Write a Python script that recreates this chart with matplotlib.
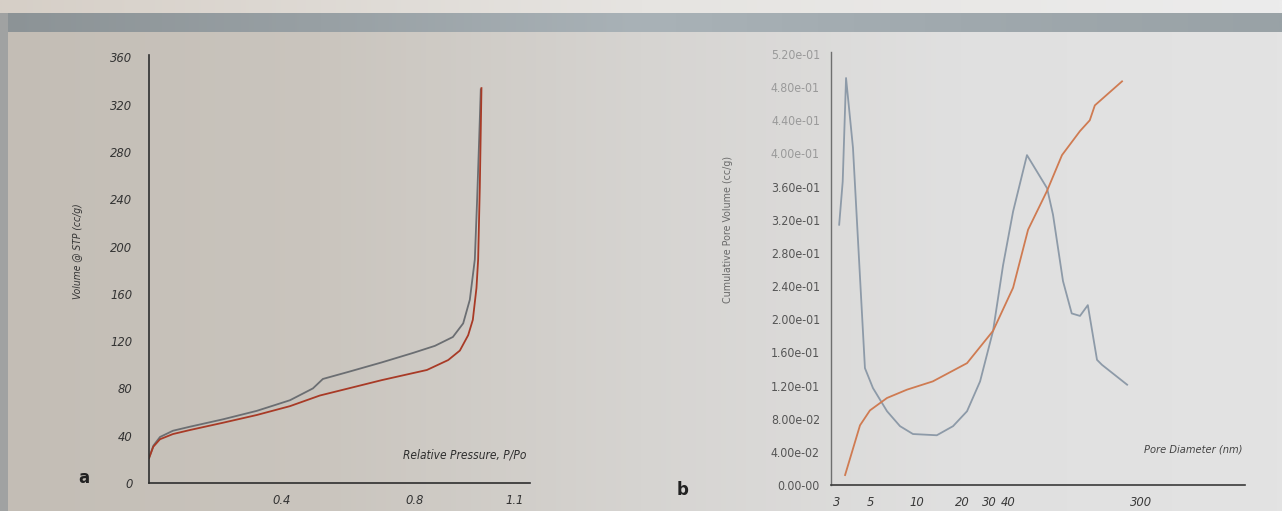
#!/usr/bin/env python3
"""
Nitrogen sorption figure: (a) isotherm, (b) cumulative pore volume / PSD.
"""

import numpy as np
import matplotlib
matplotlib.use("Agg")
import matplotlib.pyplot as plt
from matplotlib import font_manager
from matplotlib.colors import LinearSegmentedColormap

# ── Panel a: isotherm ───────────────────────────────────────────
p_desorb = [0.0, 0.013, 0.033, 0.072, 0.123, 0.223, 0.324, 0.424, 0.493, 0.523,
            0.60, 0.70, 0.794, 0.86, 0.914, 0.945, 0.965, 0.98, 0.987, 0.993, 0.998]
v_desorb = [21, 31.5, 38.9, 44.2, 47.6, 53.9, 61, 70, 80, 88,
            94, 102, 110, 116, 123.5, 135, 155, 189, 240, 290, 333]

p_adsorb = [0.0, 0.013, 0.033, 0.072, 0.123, 0.223, 0.324, 0.424, 0.514, 0.60,
            0.70, 0.836, 0.90, 0.935, 0.96, 0.974, 0.985, 0.99, 0.995, 0.998, 1.0]
v_adsorb = [21, 30.7, 37, 41.4, 44.8, 51, 57.5, 65, 74, 80,
            87, 95.6, 104, 112, 125, 138, 165, 189, 250, 300, 334]

a_yticks = [0, 40, 80, 120, 160, 200, 240, 280, 320, 360]
a_xticks = [0.4, 0.8, 1.1]

# ── Panel b: pore size ──────────────────────────────────────────
d_psd = [3.10, 3.27, 3.44, 3.82, 4.58, 5.17, 6.40, 7.79, 9.48, 13.6, 17.4, 21.5,
         26.2, 31.9, 37.1, 43.2, 53.3, 72.3, 79.1, 92.0, 105, 119, 134, 154, 166, 243]
v_psd = [0.314, 0.366, 0.491, 0.407, 0.141, 0.117, 0.089, 0.071, 0.0615, 0.060,
         0.071, 0.089, 0.125, 0.186, 0.265, 0.330, 0.398, 0.358, 0.326, 0.246,
         0.207, 0.204, 0.217, 0.151, 0.145, 0.121]

d_cum = [3.39, 4.25, 4.94, 6.40, 8.65, 12.8, 21.5, 31.9, 43.2, 54.2, 72.3, 90.6,
         119, 138, 149, 225]
v_cum = [0.012, 0.072, 0.090, 0.105, 0.115, 0.125, 0.147, 0.186, 0.238, 0.308,
         0.355, 0.398, 0.427, 0.440, 0.458, 0.487]

b_yticks = [0.00, 0.04, 0.08, 0.12, 0.16, 0.20, 0.24, 0.28, 0.32, 0.36,
            0.40, 0.44, 0.48, 0.52]
b_ylabels = ["0.00-00", "4.00e-02", "8.00e-02", "1.20e-01", "1.60e-01", "2.00e-01",
             "2.40e-01", "2.80e-01", "3.20e-01", "3.60e-01", "4.00e-01", "4.40e-01",
             "4.80e-01", "5.20e-01"]
b_xticks = [3, 5, 10, 20, 30, 40, 300]


# ── Pick a narrow font if one is installed ─────────────────────
def find_narrow(italic):
    best = None
    for f in font_manager.fontManager.ttflist:
        name = f.name.lower()
        fn = f.fname.lower()
        narrow = ("narrow" in name or "condensed" in name or "narrow" in fn
                  or "condensed" in fn or str(f.stretch) in ("condensed", "semi-condensed"))
        if not narrow or "bold" in fn or f.weight not in (400, "normal", "regular"):
            continue
        is_it = f.style in ("italic", "oblique")
        if is_it == italic:
            if "liberation" in fn or "arial" in fn:
                return f.fname
            best = best or f.fname
    return best


narrow_it = find_narrow(True)
narrow_rm = find_narrow(False)


def fp(size, italic=False):
    path = narrow_it if italic else narrow_rm
    if path:
        return font_manager.FontProperties(fname=path, size=size)
    # fallback: regular family, a bit smaller
    return font_manager.FontProperties(family="Liberation Sans", size=size * 0.9,
                                       style="italic" if italic else "normal")


W, H = 1282, 511
fig = plt.figure(figsize=(W / 100, H / 100), dpi=100)

# ── Photo-like page background ──────────────────────────────────
bg = fig.add_axes([0, 0, 1, 1], zorder=-10)
page = LinearSegmentedColormap.from_list(
    "page", ["#c3bdb5", "#cac5be", "#d6d4d1", "#e0e0e0", "#e3e3e3"])
grad = np.tile(np.linspace(0, 1, 256), (64, 1))
bg.imshow(grad, cmap=page, aspect="auto", extent=[0, 1, 0, 1])
band = LinearSegmentedColormap.from_list(
    "band", ["#8c9396", "#98a0a4", "#a9b2b7", "#a0a9ae", "#99a2a6"])
bg.imshow(grad, cmap=band, aspect="auto", extent=[0, 1, 1 - 32 / H, 1 - 13 / H])
top = LinearSegmentedColormap.from_list("top", ["#d6cfc7", "#e6e4e1", "#ececec"])
bg.imshow(grad, cmap=top, aspect="auto", extent=[0, 1, 1 - 13 / H, 1])
bg.fill_between([0, 0.006], [0, 0], [1 - 13 / H] * 2, color="#a0a2a2", lw=0)
bg.set_xlim(0, 1)
bg.set_ylim(0, 1)
bg.axis("off")

# ── Panel a ─────────────────────────────────────────────────────
ax1 = fig.add_axes([149 / W, (H - 483) / H, (530 - 149) / W, (483 - 55) / H])
ax1.patch.set_alpha(0)
ax1.plot(p_desorb, v_desorb, color="#6b6e72", lw=1.3)
ax1.plot(p_adsorb, v_adsorb, color="#a83a26", lw=1.3)
ax1.set_xlim(0, 1.146)
ax1.set_ylim(0, 362)
ax1.set_yticks(a_yticks)
ax1.set_xticks(a_xticks)
ax1.set_xticklabels([f"{t:g}" for t in a_xticks])
for s in ("top", "right"):
    ax1.spines[s].set_visible(False)
for s in ("left", "bottom"):
    ax1.spines[s].set_color("#2e2e2e")
    ax1.spines[s].set_linewidth(1.2)
ax1.tick_params(length=0, colors="#333333")
ax1.tick_params(axis="y", pad=12)
ax1.tick_params(axis="x", pad=8)
for lab in ax1.get_xticklabels() + ax1.get_yticklabels():
    lab.set_fontproperties(fp(9.3, italic=True))
fig.text(78 / W, 1 - 251 / H, "Volume @ STP (cc/g)", rotation=90,
         fontproperties=fp(7.4, italic=True), color="#333333",
         ha="center", va="center")
ax1.text(0.99, 0.05, "Relative Pressure, P/Po", transform=ax1.transAxes,
         fontproperties=fp(8.6, italic=True), color="#2e2e2e",
         ha="right", va="bottom")
fig.text(84 / W, 1 - 478 / H, "a", fontsize=12, fontweight="bold",
         color="#222222", ha="center", va="center")

# ── Panel b ─────────────────────────────────────────────────────
ax2 = fig.add_axes([831 / W, (H - 485) / H, (1245 - 831) / W, (485 - 52) / H])
ax2.patch.set_alpha(0)
ax2.set_xscale("log")
ax2.plot(d_psd, v_psd, color="#8d9aa8", lw=1.3)
ax2.plot(d_cum, v_cum, color="#cf7b52", lw=1.3)
ax2.set_xlim(2.739, 1449)
ax2.set_ylim(0, 0.5224)
ax2.set_yticks(b_yticks)
ax2.set_yticklabels(b_ylabels)
ax2.set_xticks(b_xticks)
ax2.set_xticklabels([str(t) for t in b_xticks])
ax2.minorticks_off()
for s in ("top", "right"):
    ax2.spines[s].set_visible(False)
ax2.spines["left"].set_color("#6f6f6f")
ax2.spines["bottom"].set_color("#3a3a3a")
ax2.spines["left"].set_linewidth(1.0)
ax2.spines["bottom"].set_linewidth(1.2)
ax2.tick_params(length=0, colors="#555555")
ax2.tick_params(axis="y", pad=8)
ax2.tick_params(axis="x", pad=8)
ylabs = ax2.get_yticklabels()
for i, lab in enumerate(ylabs):
    lab.set_fontproperties(fp(8.8))
    # upper labels are faded in the print
    if i >= len(ylabs) - 4:
        lab.set_color("#9a9a9a")
for lab in ax2.get_xticklabels():
    lab.set_fontproperties(fp(9.3, italic=True))
    lab.set_color("#3a3a3a")
fig.text(728 / W, 1 - 229 / H, "Cumulative Pore Volume (cc/g)", rotation=90,
         fontproperties=fp(7.7), color="#6a6a6a", ha="center", va="center")
ax2.text(0.995, 0.07, "Pore Diameter (nm)", transform=ax2.transAxes,
         fontproperties=fp(7.9, italic=True), color="#444444",
         ha="right", va="bottom")
fig.text(683 / W, 1 - 490 / H, "b", fontsize=12, fontweight="bold",
         color="#222222", ha="center", va="center")

fig.savefig("out.png", dpi=100)
